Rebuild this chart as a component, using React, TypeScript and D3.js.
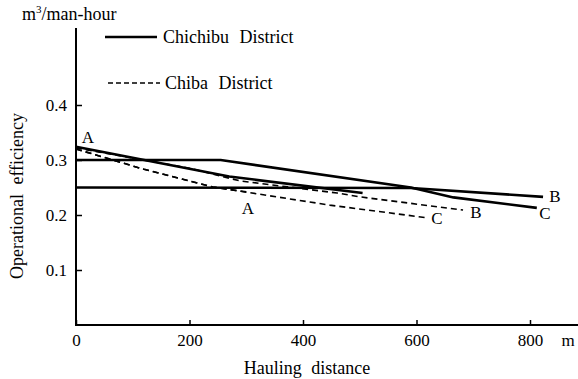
import * as React from 'react';
import * as d3 from 'd3';

// hauling distance (m) -> operational efficiency (m3/man-hour)
const chichibuA: [number, number][] = [[0, 0.324], [270, 0.27], [505, 0.24]];
const chichibuB: [number, number][] = [[0, 0.25], [590, 0.249], [823, 0.233]];
const chichibuC: [number, number][] = [[0, 0.3], [255, 0.3], [590, 0.25], [665, 0.232], [812, 0.213]];
const chibaA: [number, number][] = [[0, 0.32], [120, 0.283], [241, 0.251], [300, 0.242]];
const chibaB: [number, number][] = [[0, 0.322], [200, 0.285], [289, 0.262], [460, 0.24], [500, 0.233], [682, 0.209]];
const chibaC: [number, number][] = [[0, 0.32], [120, 0.283], [241, 0.251], [447, 0.218], [618, 0.195]];

const xTicks = [0, 200, 400, 600, 800];
const yTicks = [0.1, 0.2, 0.3, 0.4];

const FONT = "'Liberation Serif', 'Times New Roman', serif";

export default function App() {
  const svg_x_axis = React.useRef() as React.MutableRefObject<any>;
  const svg_y_axis = React.useRef() as React.MutableRefObject<any>;

  const width = 578;
  const height = 379;

  const x = d3.scaleLinear().domain([0, 800]).range([76, 530]);
  const y = d3.scaleLinear().domain([0, 0.4]).range([325, 105]);

  React.useEffect(() => {
    const xa = d3.select(svg_x_axis.current)
      .call(d3.axisBottom(x).tickValues(xTicks).tickSizeInner(-5).tickSizeOuter(0).tickPadding(9).tickFormat(d3.format('d')));
    xa.attr('font-family', null).attr('font-size', null);
    xa.select('.domain').remove();
    xa.selectAll('line').attr('stroke', '#000').attr('stroke-width', 1.5);
    xa.selectAll('text').style('font-family', FONT).style('font-size', '17px').attr('fill', '#000');

    const ya = d3.select(svg_y_axis.current)
      .call(d3.axisLeft(y).tickValues(yTicks).tickSizeInner(-6).tickSizeOuter(0).tickPadding(9).tickFormat(d3.format('.1f')));
    ya.attr('font-family', null).attr('font-size', null);
    ya.select('.domain').remove();
    ya.selectAll('line').attr('stroke', '#000').attr('stroke-width', 1.5);
    ya.selectAll('text').style('font-family', FONT).style('font-size', '17px').attr('fill', '#000');
  }, []);

  const line = d3.line<[number, number]>()
    .x((p) => x(p[0]))
    .y((p) => y(p[1]));

  const solid = { fill: 'none', stroke: '#000', strokeWidth: 2.6 };
  const dashed = { fill: 'none', stroke: '#000', strokeWidth: 1.6, strokeDasharray: '6 4' };
  const txt = (size: number, ws = 0): React.CSSProperties => ({ fontFamily: FONT, fontSize: size, wordSpacing: ws, fill: '#000' });

  return (
    <svg width={width} height={height} style={{ position: 'absolute', left: 0, top: 0, background: '#fff' }}>
      {/* axes */}
      <line x1={x(0)} x2={x(0)} y1={28} y2={y(0) + 1} stroke="#000" strokeWidth={2} />
      <line x1={x(0) - 1} x2={width} y1={y(0)} y2={y(0)} stroke="#000" strokeWidth={2} />
      <g ref={svg_x_axis} transform={`translate(0, ${y(0)})`} />
      <g ref={svg_y_axis} transform={`translate(${x(0)}, 0)`} />

      {/* Chichibu */}
      <path d={line(chichibuA) as string} {...solid} />
      <path d={line(chichibuB) as string} {...solid} />
      <path d={line(chichibuC) as string} {...solid} />
      {/* Chiba */}
      <path d={line(chibaA) as string} {...dashed} />
      <path d={line(chibaB) as string} {...dashed} />
      <path d={line(chibaC) as string} {...dashed} />

      {/* line labels */}
      <text x={88} y={143} textAnchor="middle" style={txt(17)}>A</text>
      <text x={248} y={214} textAnchor="middle" style={txt(17)}>A</text>
      <text x={555} y={202} textAnchor="middle" style={txt(17)}>B</text>
      <text x={545} y={219} textAnchor="middle" style={txt(17)}>C</text>
      <text x={476} y={218} textAnchor="middle" style={txt(17)}>B</text>
      <text x={437} y={224} textAnchor="middle" style={txt(17)}>C</text>

      {/* legend */}
      <line x1={105} x2={157} y1={37} y2={37} {...solid} />
      <text x={163} y={43} style={txt(18, 6)}>Chichibu District</text>
      <line x1={108} x2={160} y1={83} y2={83} {...dashed} strokeDasharray="5 3" />
      <text x={165} y={89} style={txt(18, 6)}>Chiba District</text>

      {/* axis titles */}
      <text x={22} y={20} style={txt(18)}>m<tspan dy={-7} style={{ fontSize: 11 }}>3</tspan><tspan dy={7}>/man-hour</tspan></text>
      <text transform="translate(23, 196) rotate(-90)" textAnchor="middle" style={txt(18, 5)}>Operational efficiency</text>
      <text x={568} y={346} textAnchor="middle" style={txt(17)}>m</text>
      <text x={307} y={374} textAnchor="middle" style={txt(18, 5)}>Hauling distance</text>
    </svg>
  );
}
